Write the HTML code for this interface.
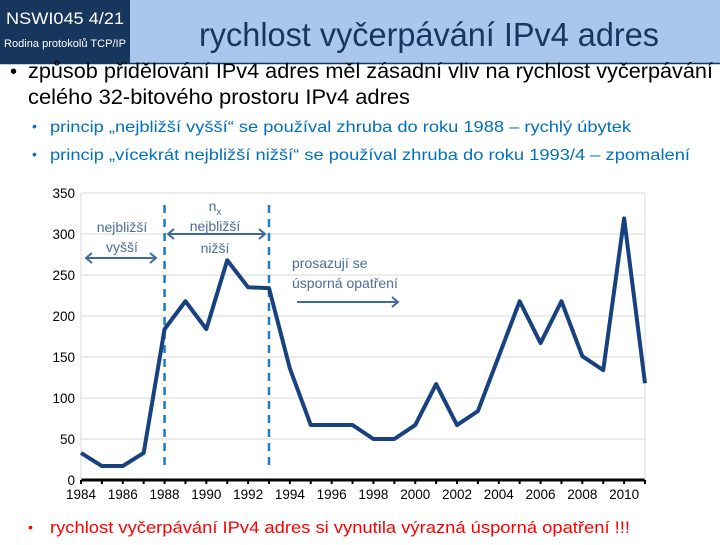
<!DOCTYPE html>
<html><head><meta charset="utf-8"><style>
body{margin:0;width:720px;height:540px;overflow:hidden;background:#fff;font-family:"Liberation Sans",sans-serif}
svg text{font-family:"Liberation Sans",sans-serif}
</style></head><body>
<svg width="720" height="540" xmlns="http://www.w3.org/2000/svg">
<rect x="0" y="0" width="720" height="63" fill="#a9c6ec"/>
<rect x="0" y="0" width="130" height="63" fill="#17365d"/>
<line x1="0" y1="63.5" x2="720" y2="63.5" stroke="#17365d" stroke-width="1.5"/>
<text x="6" y="24" fill="#fff" font-size="17" textLength="118" lengthAdjust="spacingAndGlyphs">NSWI045   4/21</text>
<text x="4" y="47" fill="#fff" font-size="11" textLength="122" lengthAdjust="spacingAndGlyphs">Rodina protokolů TCP/IP</text>
<text x="199" y="46" fill="#17365d" font-size="33" textLength="460" lengthAdjust="spacingAndGlyphs">rychlost vyčerpávání IPv4 adres</text>
<text x="10" y="78" font-size="20" fill="#000">•</text>
<text x="28" y="78" font-size="21" fill="#000" textLength="685" lengthAdjust="spacingAndGlyphs">způsob přidělování IPv4 adres měl zásadní vliv na rychlost vyčerpávání</text>
<text x="28" y="104" font-size="21" fill="#000" textLength="382" lengthAdjust="spacingAndGlyphs">celého 32-bitového prostoru IPv4 adres</text>
<text x="32" y="131" font-size="14" fill="#0070c0">•</text>
<text x="50" y="132" font-size="16" fill="#0070c0" textLength="581" lengthAdjust="spacingAndGlyphs">princip „nejbližší vyšší“ se používal zhruba do roku 1988 – rychlý úbytek</text>
<text x="32" y="159" font-size="14" fill="#0070c0">•</text>
<text x="50" y="160" font-size="16" fill="#0070c0" textLength="640" lengthAdjust="spacingAndGlyphs">princip „vícekrát nejbližší nižší“ se používal zhruba do roku 1993/4 – zpomalení</text>
<g id="chart"></g>
<text x="28" y="532" font-size="14" fill="#ff0000">•</text>
<text x="50" y="533" font-size="17" fill="#ff0000" textLength="580" lengthAdjust="spacingAndGlyphs">rychlost vyčerpávání IPv4 adres si vynutila výrazná úsporná opatření !!!</text>
</svg>
<script>
const years=[1984,1985,1986,1987,1988,1989,1990,1991,1992,1993,1994,1995,1996,1997,1998,1999,2000,2001,2002,2003,2004,2005,2006,2007,2008,2009,2010,2011];
const values=[33,17,17,33,184,218,184,268,235,234,136,67,67,67,50,50,67,117,67,84,151,218,167,218,151,134,319,118];
const yTicks=[0,50,100,150,200,250,300,350];
const xTickLabels=[1984,1986,1988,1990,1992,1994,1996,1998,2000,2002,2004,2006,2008,2010];
const dividers=[1988,1993];
const NS="http://www.w3.org/2000/svg";
const X0=81,X1=645,Y0=480,Y1=193;
const xs=y=>X0+(y-1984)*(X1-X0)/(2011-1984);
const ys=v=>Y0-v*(Y0-Y1)/350;
const g=document.getElementById('chart');
function mk(t,a){const e=document.createElementNS(NS,t);for(const k in a)e.setAttribute(k,a[k]);g.appendChild(e);return e;}
for(const t of yTicks){
 const l=mk('line',{x1:X0,x2:X1,y1:ys(t),y2:ys(t),stroke:t?'#d9d9d9':'#000','stroke-width':t?1:3});
 
 
 const tx=mk('text',{x:X0-6,y:ys(t)+5,'text-anchor':'end','font-size':13.5,fill:'#000'});
 tx.textContent=t;
 
 
}
mk('line',{x1:X0,x2:X0,y1:Y1,y2:Y0,stroke:'#d9d9d9'});
mk('line',{x1:X1,x2:X1,y1:Y1,y2:Y0,stroke:'#d9d9d9'});
for(const y of years){mk('line',{x1:xs(y),x2:xs(y),y1:Y0,y2:Y0+4,stroke:'#000','stroke-width':2});}
for(const y of xTickLabels){
 const tx=mk('text',{x:xs(y),y:Y0+19,'text-anchor':'middle','font-size':13.5,fill:'#000'});
 tx.textContent=y;
 
 
}
for(const d of dividers){
 const l=mk('line',{x1:xs(d),x2:xs(d),y1:205,y2:468,stroke:'#1f7bc4','stroke-width':2.5,'stroke-dasharray':'8,6'});
 
 
}
const p=mk('polyline',{points:years.map((y,i)=>xs(y)+','+ys(values[i])).join(' '),fill:'none',stroke:'#17427f','stroke-width':4,'stroke-linejoin':'round'});


function lab(x,y,s,n){const t=mk('text',{x:x,y:y,'text-anchor':'middle','font-size':14,fill:'#4a6e9a'});t.textContent=s;return t;}
lab(122,232,'nejbližší','label-nejblizsi-vyssi');lab(122,252,'vyšší','label-vyssi');
const nx=lab(215,211,'n','label-nx');const sub=document.createElementNS(NS,'tspan');sub.setAttribute('font-size','10');sub.setAttribute('dy','4');sub.textContent='x';nx.appendChild(sub);
lab(215,231,'nejbližší','label-nejblizsi-nizsi');lab(215,253,'nižší','label-nizsi');
const t1=mk('text',{x:292,y:268,'font-size':14,fill:'#4a6e9a'});t1.textContent='prosazují se';

const t2=mk('text',{x:292,y:288,'font-size':14,fill:'#4a6e9a'});t2.textContent='úsporná opatření';

function arrow(x1,x2,y,both,n){
 const a=mk('line',{x1:x1,x2:x2,y1:y,y2:y,stroke:'#3f6a9c','stroke-width':2});
 
 mk('polyline',{points:(x2-6)+','+(y-5)+' '+x2+','+y+' '+(x2-6)+','+(y+5),fill:'none',stroke:'#3f6a9c','stroke-width':2});
 if(both)mk('polyline',{points:(x1+6)+','+(y-5)+' '+x1+','+y+' '+(x1+6)+','+(y+5),fill:'none',stroke:'#3f6a9c','stroke-width':2});
}
arrow(86,156,258,true,'arrow-vyssi');
arrow(168,265,234,true,'arrow-nizsi');
arrow(297,398,302,false,'arrow-opatreni');
</script>
</body></html>
